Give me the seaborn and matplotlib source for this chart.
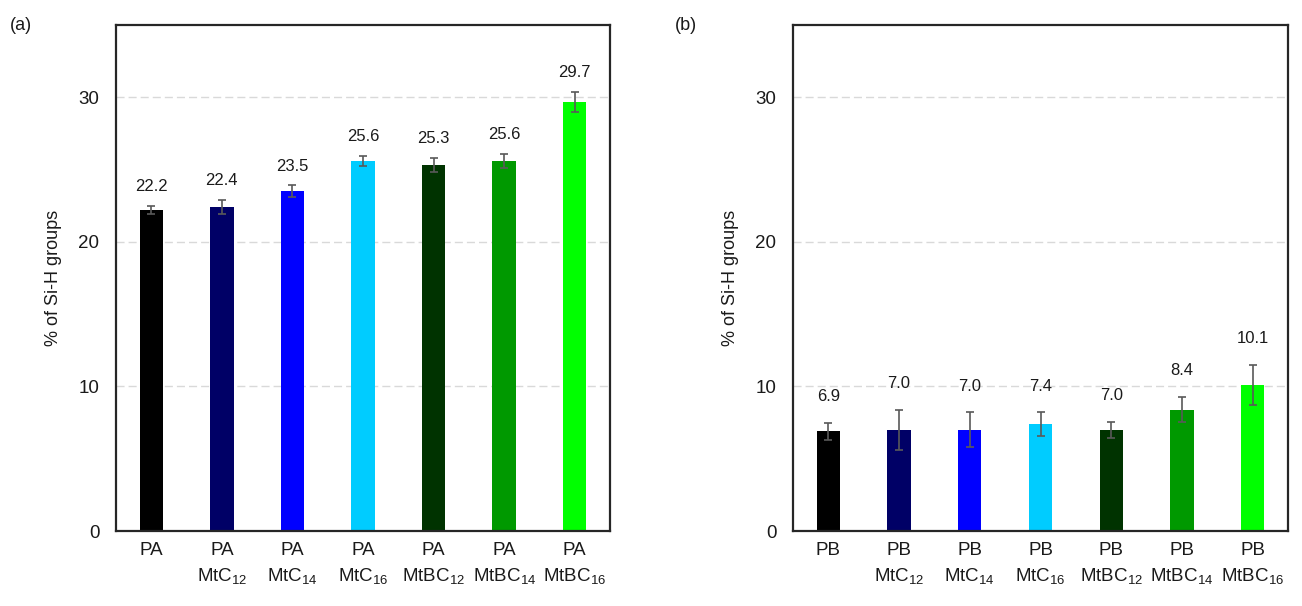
import matplotlib
matplotlib.use("Agg")
import matplotlib.pyplot as plt
import seaborn as sns
import pandas as pd
import numpy as np

# ---- data ----
cats_a = ["PA", "PA\nMtC$_{12}$", "PA\nMtC$_{14}$", "PA\nMtC$_{16}$",
          "PA\nMtBC$_{12}$", "PA\nMtBC$_{14}$", "PA\nMtBC$_{16}$"]
vals_a = [22.2, 22.4, 23.5, 25.6, 25.3, 25.6, 29.7]
errs_a = [0.3, 0.5, 0.4, 0.35, 0.5, 0.5, 0.7]

cats_b = ["PB", "PB\nMtC$_{12}$", "PB\nMtC$_{14}$", "PB\nMtC$_{16}$",
          "PB\nMtBC$_{12}$", "PB\nMtBC$_{14}$", "PB\nMtBC$_{16}$"]
vals_b = [6.9, 7.0, 7.0, 7.4, 7.0, 8.4, 10.1]
errs_b = [0.58, 1.4, 1.2, 0.8, 0.54, 0.86, 1.37]

colors = ["#000000", "#000066", "#0000FF", "#00CCFF", "#003300", "#009900", "#00FF00"]
yticks = [0, 10, 20, 30]
ylabel = "% of Si-H groups"

sns.set_theme(style="white")
plt.rcParams["font.family"] = ["Liberation Sans", "DejaVu Sans"]
plt.rcParams["mathtext.fontset"] = "custom"
plt.rcParams["mathtext.rm"] = "Liberation Sans"
plt.rcParams["mathtext.it"] = "Liberation Sans:italic"
plt.rcParams["mathtext.bf"] = "Liberation Sans:bold"
plt.rcParams["mathtext.default"] = "rm"

W, H = 1302, 606
fig = plt.figure(figsize=(W / 100, H / 100), dpi=100)
fig.patch.set_facecolor("white")

def panel(rect, cats, vals, errs, label_off, tag, tag_x):
    ax = fig.add_axes(rect)
    df = pd.DataFrame({"cat": cats, "val": vals})
    sns.barplot(data=df, x="cat", y="val", hue="cat", palette=colors,
                order=cats, hue_order=cats, width=0.33, errorbar=None,
                legend=False, ax=ax, saturation=1, linewidth=0)
    xs = np.arange(len(cats))
    ax.errorbar(xs, vals, yerr=errs, fmt="none", ecolor="#595959",
                elinewidth=1.2, capsize=3.2, capthick=1.2, zorder=5)
    for x, v, e in zip(xs, vals, errs):
        ax.annotate(f"{v:.1f}", (x, v + e), xytext=(0, label_off),
                    textcoords="offset points", ha="center", va="center",
                    fontsize=12, color="#1a1a1a")
    ax.set_xlim(-0.5, len(cats) - 0.5)
    ax.set_ylim(0, 35)
    ax.set_yticks(yticks)
    ax.yaxis.grid(True, color="#d9d9d9", linewidth=1, linestyle=(0, (5.8, 2.9)))
    ax.xaxis.grid(False)
    ax.set_axisbelow(True)
    ax.set_xlabel("")
    ax.set_ylabel(ylabel, fontsize=13, color="#1a1a1a", labelpad=12)
    ax.tick_params(axis="y", length=0, pad=12, labelsize=13.5, labelcolor="#1a1a1a")
    ax.tick_params(axis="x", length=0, pad=8, labelsize=13.5, labelcolor="#1a1a1a")
    for lab in ax.get_xticklabels():
        lab.set_linespacing(1.45)
    for s in ax.spines.values():
        s.set_visible(True)
        s.set_color("#262626")
        s.set_linewidth(1.6)
    fig.text(tag_x, 1 - 26 / H, tag, fontsize=13, va="center", ha="left", color="#1a1a1a")
    return ax

bottom = 1 - 531 / H
height = (531 - 25) / H
panel([116 / W, bottom, 494 / W, height], cats_a, vals_a, errs_a, 14, "(a)", 10 / W)
panel([793 / W, bottom, 495 / W, height], cats_b, vals_b, errs_b, 19, "(b)", 675 / W)

fig.savefig("out.png", dpi=100, facecolor="white")
